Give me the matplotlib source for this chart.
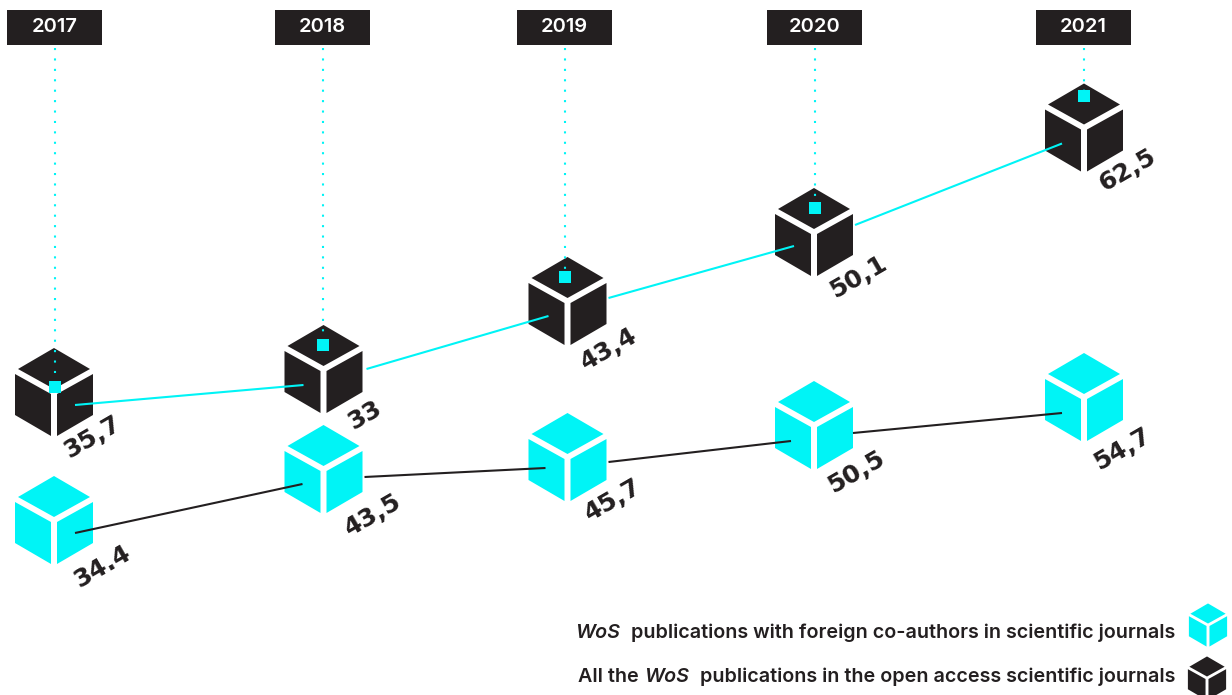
from __future__ import annotations

import matplotlib

matplotlib.use("Agg")
import matplotlib.pyplot as plt
from matplotlib.patches import Polygon, Rectangle

CYAN = "#00F4F6"
DARK = "#231F20"

YEARS = ["2017", "2018", "2019", "2020", "2021"]
YEAR_X = [54.5, 322.5, 564.5, 814.5, 1083.5]

CUBE_X = [54, 323.5, 567.5, 814, 1084]
OPEN_ACCESS_Y = [392, 369, 301, 232, 127.5]
FOREIGN_Y = [520, 469, 457, 425, 397]
MARKER_Y = [386.5, 345, 277, 208, 96]

OPEN_ACCESS_LABELS = ["35,7", "33", "43,4", "50,1", "62,5"]
FOREIGN_LABELS = ["34.4", "43,5", "45,7", "50,5", "54,7"]

OPEN_ACCESS_LABEL_OFFSET = [(39, 45), (41, 46), (42, 48), (44, 45), (44, 43)]
FOREIGN_LABEL_OFFSET = [(49, 47), (50, 46), (46, 43), (42, 47), (38, 52)]

# where each connecting line leaves one cube and enters the next
OPEN_ACCESS_LINE_OFFSET = [((21, 13), (-20, 16)), ((43, 0), (-19, 15)), ((41, -3), (-20, 14)), ((41, -7), (-22, 16))]
FOREIGN_LINE_OFFSET = [((21, 13), (-21, 15)), ((41, 8), (-22, 11)), ((41, 5), (-23, 16)), ((39, 8), (-22, 16))]

TOP_FACE = [(0, -44), (36, -23), (0, -3), (-36, -23)]
LEFT_FACE = [(-39, -18), (-3, 2), (-3, 44), (-39, 23)]
RIGHT_FACE = [(3, 2), (39, -18), (39, 23), (3, 44)]


def draw_cube(ax, cx, cy, color, scale=1.0, zorder=2):
    for face in (TOP_FACE, LEFT_FACE, RIGHT_FACE):
        pts = [(cx + dx * scale, cy + dy * scale) for dx, dy in face]
        ax.add_patch(Polygon(pts, closed=True, facecolor=color, edgecolor="none", zorder=zorder))


def draw_series(ax, ys, color, line_color, labels, label_offset, line_offset):
    for x, y in zip(CUBE_X, ys):
        draw_cube(ax, x, y, color)
    for i, (start, end) in enumerate(line_offset):
        ax.plot(
            [CUBE_X[i] + start[0], CUBE_X[i + 1] + end[0]],
            [ys[i] + start[1], ys[i + 1] + end[1]],
            color=line_color,
            linewidth=1.5,
            solid_capstyle="butt",
            zorder=3,
        )
    for x, y, label, off in zip(CUBE_X, ys, labels, label_offset):
        ax.text(
            x + off[0],
            y + off[1],
            label,
            color=DARK,
            fontsize=18,
            fontweight="bold",
            family="DejaVu Sans",
            rotation=30,
            rotation_mode="anchor",
            ha="center",
            va="center",
            zorder=4,
        )


def legend_text(ax, fig, right, y, parts):
    # mixed italic and bold text, placed right to left from measured widths
    renderer = fig.canvas.get_renderer()
    x = right
    for text, style in reversed(parts):
        t = ax.text(x, y, text, fontsize=14.2, fontweight="semibold", family="Inter", style=style, color=DARK, ha="right", va="center_baseline")
        x -= t.get_window_extent(renderer).width
        if text.startswith(" "):
            x -= 5.5


fig = plt.figure(figsize=(12.32, 6.95), dpi=100)
ax = fig.add_axes([0, 0, 1, 1])
ax.set_xlim(0, 1232)
ax.set_ylim(695, 0)
ax.axis("off")

draw_series(ax, OPEN_ACCESS_Y, DARK, CYAN, OPEN_ACCESS_LABELS, OPEN_ACCESS_LABEL_OFFSET, OPEN_ACCESS_LINE_OFFSET)
draw_series(ax, FOREIGN_Y, CYAN, DARK, FOREIGN_LABELS, FOREIGN_LABEL_OFFSET, FOREIGN_LINE_OFFSET)

for x, year, marker_y in zip(YEAR_X, YEARS, MARKER_Y):
    ax.add_patch(Rectangle((x - 47.5, 10), 95, 35, facecolor=DARK, edgecolor="none", zorder=5))
    ax.text(x, 27.5, year, color="white", fontsize=14.5, fontweight="semibold", family="Inter", ha="center", va="center", zorder=6)
    ax.plot([x, x], [48, marker_y], color=CYAN, linewidth=1.5, linestyle=(0, (1, 4)), zorder=3)
    ax.plot([x], [marker_y], marker="s", markersize=8, color=CYAN, markeredgewidth=0, zorder=4)

legend_text(ax, fig, 1175, 631, [("WoS", "italic"), (" publications with foreign co-authors in scientific journals", "normal")])
legend_text(ax, fig, 1175, 675, [("All the ", "normal"), ("WoS", "italic"), (" publications in the open access scientific journals", "normal")])
draw_cube(ax, 1208, 625, CYAN, scale=0.49)
draw_cube(ax, 1207, 678, DARK, scale=0.49)

fig.savefig("out.png", dpi=100)
plt.close(fig)
